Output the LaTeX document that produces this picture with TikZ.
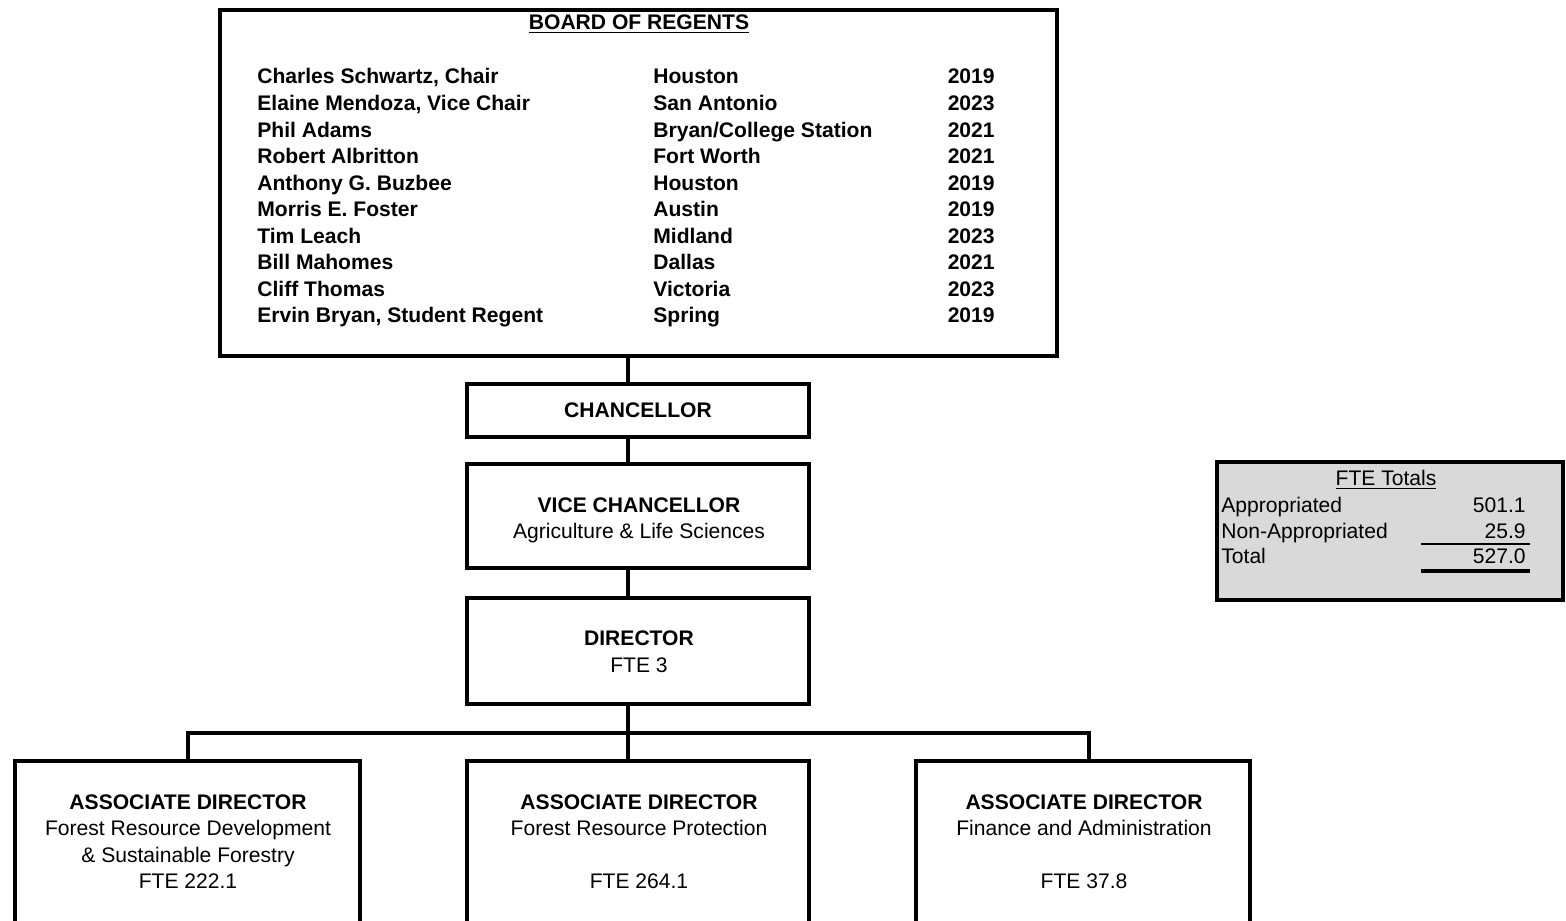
\documentclass[tikz,border=0pt]{standalone}
\usepackage{fontspec}
\setmainfont{Liberation Sans}
\begin{document}
\begin{tikzpicture}[x=0.02cm,y=-0.02cm,
  box/.style={draw=black,line width=2.2pt,fill=white,inner sep=0pt},
  conn/.style={line width=2.2pt},
  txt/.style={inner sep=0pt,text height=8.6pt,text depth=0pt,font=\fontsize{12}{14}\selectfont},
  btxt/.style={txt,font=\fontsize{12}{14}\selectfont\bfseries},
  rowname/.style={btxt,anchor=west},
  rowcity/.style={btxt,anchor=west},
  rowyear/.style={btxt,anchor=east}]
\clip (0,0) rectangle (1566,920);
\fill[white] (0,0) rectangle (1566,920);
% boxes
\node[box,minimum width=16.74cm,minimum height=6.92cm] (board) at (638.5,183) {};
\node[box,minimum width=6.84cm,minimum height=1.06cm] (chanc) at (638,410.5) {};
\node[box,minimum width=6.84cm,minimum height=2.08cm] (vc) at (638,516) {};
\node[box,minimum width=6.84cm,minimum height=2.12cm] (dir) at (638,651) {};
\node[box,minimum width=6.9cm,minimum height=3.98cm] (ad1) at (187.5,860.5) {};
\node[box,minimum width=6.84cm,minimum height=3.98cm] (ad2) at (638,860.5) {};
\node[box,minimum width=6.68cm,minimum height=3.98cm] (ad3) at (1083,860.5) {};
\node[box,fill={rgb,255:red,217;green,217;blue,217},line width=2.6pt,minimum width=6.92cm,minimum height=2.76cm] (fte) at (1390,531) {};
% connectors
\coordinate (bus) at (628,733);
\coordinate (busl) at (188,733);
\coordinate (busr) at (1089,733);
\draw[conn] (board.south -| bus) -- (chanc.north -| bus);
\draw[conn] (chanc.south -| bus) -- (vc.north -| bus);
\draw[conn] (vc.south -| bus) -- (dir.north -| bus);
\draw[conn] (dir.south -| bus) -- (bus);
\draw[conn,line cap=rect] (busl) -- (busr);
\draw[conn] (busl) -- (busl |- ad1.north);
\draw[conn] (bus) -- (bus |- ad2.north);
\draw[conn] (busr) -- (busr |- ad3.north);
% board text
\node[btxt] (bt) at (639,22) {\underline{BOARD OF REGENTS}};
\foreach \n/\c/\yr/\y [count=\i] in {
 {Charles Schwartz, Chair}/Houston/2019/76,
 {Elaine Mendoza, Vice Chair}/San Antonio/2023/103,
 {Phil Adams}/Bryan\slash College Station/2021/130,
 {Robert Albritton}/Fort Worth/2021/156,
 {Anthony G. Buzbee}/Houston/2019/183,
 {Morris E. Foster}/Austin/2019/209,
 {Tim Leach}/Midland/2023/236,
 {Bill Mahomes}/Dallas/2021/262,
 {Cliff Thomas}/Victoria/2023/289,
 {Ervin Bryan, Student Regent}/Spring/2019/315}{
  \node[rowname] (n\i) at (257,\y) {\n};
  \node[rowcity] (c\i) at (653,\y) {\c};
  \node[rowyear] (y\i) at (995,\y) {\yr};
}
% other texts
\node[btxt] (chanct) at (638,410) {CHANCELLOR};
\node[btxt] (vct1) at (639,505) {VICE CHANCELLOR};
\node[txt] (vct2) at (639,531) {Agriculture \& Life Sciences};
\node[btxt] (dirt1) at (639,638) {DIRECTOR};
\node[txt] (dirt2) at (639,665) {FTE 3};
\node[btxt] (a1t1) at (188,802) {ASSOCIATE DIRECTOR};
\node[txt] (a1t2) at (188,828) {Forest Resource Development};
\node[txt] (a1t3) at (188,855) {\& Sustainable Forestry};
\node[txt] (a1t4) at (188,881) {FTE 222.1};
\node[btxt] (a2t1) at (639,802) {ASSOCIATE DIRECTOR};
\node[txt] (a2t2) at (639,828) {Forest Resource Protection};
\node[txt] (a2t4) at (639,881) {FTE 264.1};
\node[btxt] (a3t1) at (1084,802) {ASSOCIATE DIRECTOR};
\node[txt] (a3t2) at (1084,828) {Finance and Administration};
\node[txt] (a3t4) at (1084,881) {FTE 37.8};
% FTE totals
\node[txt] (ftet) at (1386,478) {\underline{FTE Totals}};
\node[txt,anchor=west] (fa) at (1221,505) {Appropriated};
\node[txt,anchor=west] (fn) at (1221,531) {Non-Appropriated};
\node[txt,anchor=west] (ft) at (1221,556) {Total};
\node[txt,anchor=east] (fav) at (1526,505) {501.1};
\node[txt,anchor=east] (fnv) at (1526,531) {25.9};
\node[txt,anchor=east] (ftv) at (1526,556) {527.0};
\draw[line width=0.9pt] (1421,544) -- (1530,544);
\draw[line width=2.2pt] (1421,571) -- (1530,571);
\end{tikzpicture}
\end{document}
